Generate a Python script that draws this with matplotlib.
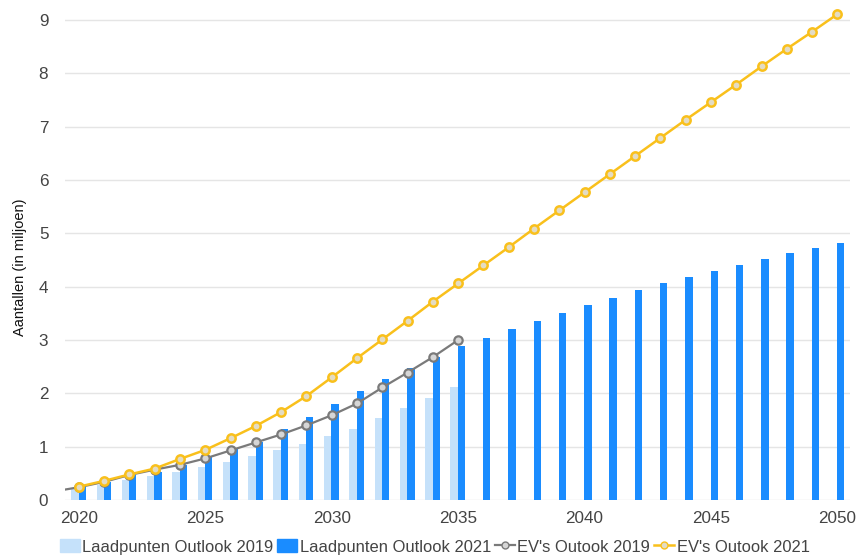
import numpy as np
import matplotlib
matplotlib.use('Agg')
import matplotlib.pyplot as plt
from matplotlib.lines import Line2D
from matplotlib.patches import Patch

plt.rcParams['font.family'] = ['Liberation Sans', 'DejaVu Sans']

years = np.arange(2020, 2051)

# Laadpunten (charging points), in millions
laadpunten_2019 = [0.22, 0.28, 0.37, 0.45, 0.53, 0.62, 0.72, 0.82, 0.94, 1.05,
                   1.20, 1.34, 1.54, 1.72, 1.92, 2.11]
laadpunten_2021 = [0.24, 0.34, 0.47, 0.53, 0.66, 0.81, 0.96, 1.09, 1.33, 1.55,
                   1.80, 2.04, 2.27, 2.48, 2.68, 2.88, 3.04, 3.21, 3.36, 3.51,
                   3.65, 3.79, 3.93, 4.06, 4.18, 4.29, 4.41, 4.51, 4.63, 4.72,
                   4.81]

# EV fleet, in millions (2019 outlook starts one year earlier)
ev_years_2019 = np.arange(2019, 2036)
ev_2019 = [0.16, 0.24, 0.34, 0.47, 0.57, 0.66, 0.78, 0.93, 1.08, 1.23, 1.40,
           1.59, 1.81, 2.11, 2.39, 2.68, 3.00]
ev_2021 = [0.25, 0.36, 0.48, 0.59, 0.77, 0.94, 1.16, 1.39, 1.65, 1.95, 2.30,
           2.66, 3.01, 3.36, 3.72, 4.06, 4.40, 4.74, 5.09, 5.43, 5.77, 6.11,
           6.45, 6.79, 7.13, 7.46, 7.79, 8.13, 8.46, 8.78, 9.11]

light_blue = '#c5e1fa'
dark_blue = '#1a8cff'
grey = '#7a7a7a'
yellow = '#f9c01c'

fig = plt.figure(figsize=(8.59, 5.57), dpi=100)
ax = fig.add_axes([0.0757, 0.1023, 0.9139, 0.8905])

w = 0.29
ax.bar(years[:len(laadpunten_2019)] - 0.16, laadpunten_2019, width=w,
       color=light_blue, zorder=2)
ax.bar(years + 0.13, laadpunten_2021, width=w, color=dark_blue, zorder=2)

ax.plot(ev_years_2019, ev_2019, color=grey, lw=1.6, marker='o', ms=6,
        mfc='#d6d6d6', mec=grey, mew=1.6, zorder=3)
ax.plot(years, ev_2021, color=yellow, lw=1.8, marker='o', ms=6,
        mfc='#e3dcc4', mec=yellow, mew=1.8, zorder=4)

ax.set_xlim(2019.45, 2050.5)
ax.set_ylim(0, 9.3)
ax.set_yticks(range(0, 10))
ax.set_xticks(range(2020, 2051, 5))
ax.grid(axis='y', color='#e5e5e5', lw=1, zorder=0)
ax.set_axisbelow(True)
for s in ax.spines.values():
    s.set_visible(False)
ax.tick_params(length=0, labelsize=12.3, labelcolor='#444444')
ax.tick_params(axis='y', pad=12)
ax.tick_params(axis='x', pad=8)

ax.set_ylabel('Aantallen (in miljoen)', fontsize=10.5, color='#111111')
ax.yaxis.set_label_coords(-0.049, 0.47)

handles = [
    Patch(color=light_blue),
    Patch(color=dark_blue),
    Line2D([], [], color=grey, lw=1.6, marker='o', ms=5, mfc='#d6d6d6',
           mec=grey),
    Line2D([], [], color=yellow, lw=1.8, marker='o', ms=5, mfc='#e3dcc4',
           mec=yellow),
]
labels = ['Laadpunten Outlook 2019', 'Laadpunten Outlook 2021',
          "EV's Outook 2019", "EV's Outook 2021"]
leg = fig.legend(handles, labels, loc='center', bbox_to_anchor=(0.506, 0.018),
                 ncol=4, frameon=False, fontsize=11.9, handlelength=1.2,
                 handleheight=0.8, handletextpad=0.15, columnspacing=0.25)
for t in leg.get_texts():
    t.set_color('#444444')

fig.savefig('out.png', dpi=100)
